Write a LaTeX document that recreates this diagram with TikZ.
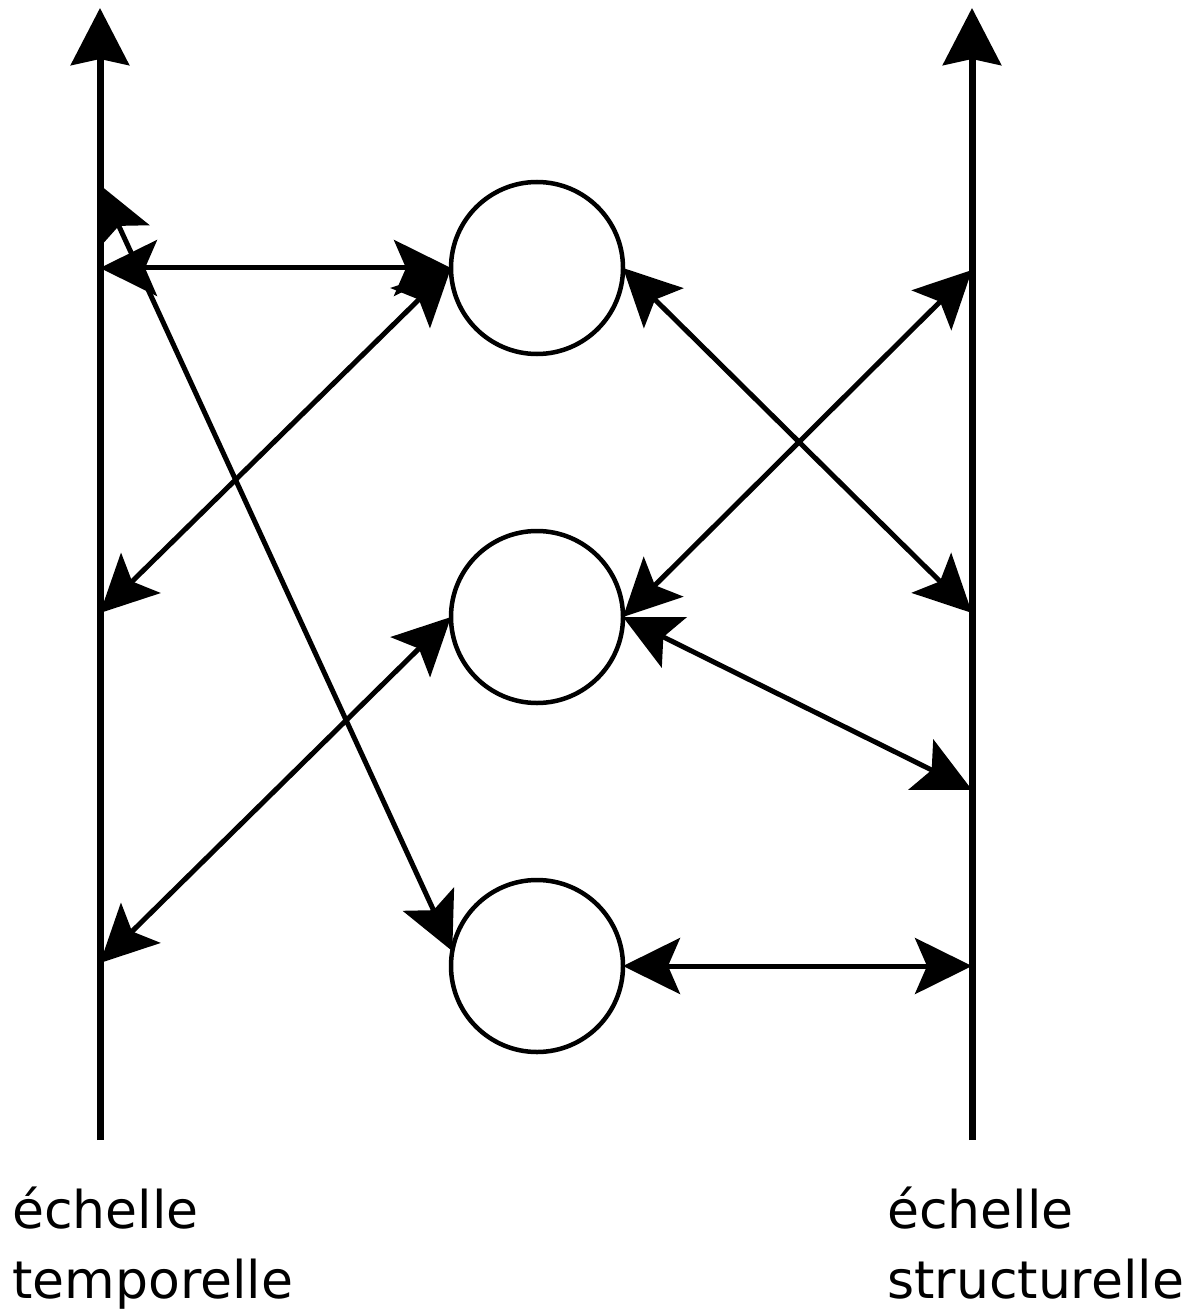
\documentclass[tikz,border=0pt]{standalone}
\usepackage{fontspec}
\setmainfont{DejaVu Sans}
\usetikzlibrary{arrows.meta}
\tikzset{
  axisline/.style={line width=7bp, -{Stealth[length=57bp,width=58bp,inset=6bp]}},
  link/.style={line width=5bp, {Stealth[length=57bp,width=56bp,inset=12bp]}-{Stealth[length=57bp,width=56bp,inset=12bp]}},
  blob/.style={circle, draw, line width=4.5bp, minimum size=172bp, inner sep=0pt, outer sep=0pt},
  lab/.style={anchor=base west, inner sep=0pt, font=\fontsize{52bp}{70bp}\selectfont}
}
\begin{document}
\begin{tikzpicture}[x=1bp,y=-1bp]
\useasboundingbox (0,0) rectangle (1195,1312);
% axes
\coordinate (lb) at (100,1140);
\coordinate (lt) at (100,8);
\coordinate (rb) at (972,1140);
\coordinate (rt) at (972,8);
\draw[axisline] (lb) -- (lt);
\draw[axisline] (rb) -- (rt);
% circles
\node[blob] (c1) at (537,268) {};
\node[blob] (c2) at (537,617) {};
\node[blob] (c3) at (537,966) {};
% points on axes
\coordinate (la1) at (100,185);
\coordinate (la2) at (100,268);
\coordinate (la3) at (100,613);
\coordinate (la4) at (100,963);
\coordinate (ra1) at (972,270);
\coordinate (ra2) at (972,613);
\coordinate (ra3) at (972,790);
\coordinate (ra4) at (972,966);
% connectors
\draw[link] (la2) -- (c1.west);
\draw[link] (c1.west) -- (la3);
\draw[link] (la1) -- (c3.170);
\draw[link] (c2.west) -- (la4);
\draw[link] (c1.east) -- (ra2);
\draw[link] (ra1) -- (c2.east);
\draw[link] (c2.east) -- (ra3);
\draw[link] (c3.east) -- (ra4);
% labels
\node[lab] (t1) at (12,1228) {échelle};
\node[lab] (t2) at (12,1298) {temporelle};
\node[lab] (t3) at (887,1228) {échelle};
\node[lab] (t4) at (887,1298) {structurelle};
\end{tikzpicture}
\end{document}
